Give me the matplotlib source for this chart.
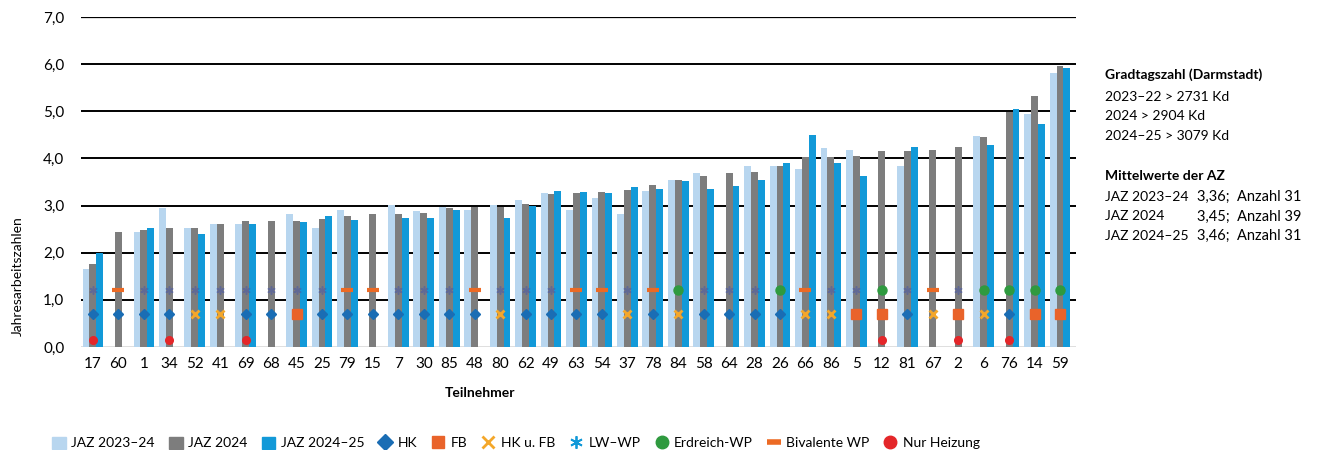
import matplotlib
matplotlib.use('Agg')
import matplotlib.pyplot as plt
from matplotlib.lines import Line2D
from matplotlib.patches import Patch
import numpy as np

plt.rcParams['font.family'] = ['Lato', 'DejaVu Sans']

teilnehmer = ['17', '60', '1', '34', '52', '41', '69', '68', '45', '25', '79', '15', '7',
              '30', '85', '48', '80', '62', '49', '63', '54', '37', '78', '84', '58', '64',
              '28', '26', '66', '86', '5', '12', '81', '67', '2', '6', '76', '14', '59']

# None = kein Wert
jaz_2023_24 = [1.65, None, 2.45, 2.94, 2.53, 2.61, 2.61, None, 2.82, 2.53, 2.91, None, 3.01,
               2.89, 2.96, 2.91, 3.01, 3.12, 3.26, 2.91, 3.16, 2.82, 3.30, 3.55, 3.69, None,
               3.84, 3.84, 3.77, 4.22, 4.17, None, 3.84, None, None, 4.47, None, 4.94, 5.82]
jaz_2024 = [1.77, 2.43, 2.48, 2.53, 2.53, 2.61, 2.67, 2.67, 2.68, 2.72, 2.78, 2.82, 2.82,
            2.84, 2.94, 2.96, 2.96, 3.04, 3.24, 3.26, 3.28, 3.33, 3.43, 3.55, 3.63, 3.70,
            3.71, 3.84, 4.03, 4.04, 4.06, 4.15, 4.15, 4.18, 4.24, 4.45, 4.98, 5.32, 5.97]
jaz_2024_25 = [2.00, None, 2.52, None, 2.40, None, 2.60, None, 2.66, 2.77, 2.70, None, 2.73,
               2.73, 2.91, None, 2.74, 2.99, 3.30, 3.28, 3.26, 3.39, 3.35, 3.52, 3.35, 3.42,
               3.55, 3.91, 4.50, 3.91, 3.63, None, 4.24, None, None, 4.29, 5.04, 4.72, 5.91]

# Wärmeverteilung: HK, FB, HKFB
verteilung = ['HK', 'HK', 'HK', 'HK', 'HKFB', 'HKFB', 'HK', 'HK', 'FB', 'HK', 'HK', 'HK', 'HK',
              'HK', 'HK', 'HK', 'HKFB', 'HK', 'HK', 'HK', 'HK', 'HKFB', 'HK', 'HKFB', 'HK', 'HK',
              'HK', 'HK', 'HKFB', 'HKFB', 'FB', 'FB', 'HK', 'HKFB', 'FB', 'HKFB', 'HK', 'FB', 'FB']
# Wärmequelle: LW, EW, BIV
quelle = ['LW', 'BIV', 'LW', 'LW', 'LW', 'LW', 'LW', 'LW', 'LW', 'LW', 'BIV', 'BIV', 'LW',
          'LW', 'LW', 'BIV', 'LW', 'LW', 'LW', 'BIV', 'BIV', 'LW', 'BIV', 'EW', 'LW', 'LW',
          'LW', 'EW', 'BIV', 'LW', 'LW', 'EW', 'LW', 'BIV', 'LW', 'EW', 'EW', 'EW', 'EW']
nur_heizung = ['17', '34', '69', '12', '2', '76']

c_light = '#b8d6ef'
c_gray = '#7d7d7d'
c_blue = '#1299d8'
c_hk = '#1a6db4'
c_fb = '#e9632a'
c_hkfb = '#f4a72a'
c_lw = '#4a5aa8'
c_ew = '#2f9a3f'
c_biv = '#ec6a24'
c_nh = '#e42629'

fig = plt.figure(figsize=(13.23, 4.5), dpi=100)
ax = fig.add_axes([0.0612, 0.2289, 0.7521, 0.7333])

x = np.arange(len(teilnehmer))
w = 0.27

def vals(lst):
    return np.array([np.nan if v is None else v for v in lst])

ax.bar(x - w, vals(jaz_2023_24), width=w, color=c_light, zorder=2)
ax.bar(x, vals(jaz_2024), width=w, color=c_gray, zorder=3)
ax.bar(x + w, vals(jaz_2024_25), width=w, color=c_blue, zorder=2)

for yv in range(0, 8):
    lw = 0.9 if yv in (0, 7) else 1.4
    ax.axhline(yv, color='black', lw=lw, zorder=1)

for i, t in enumerate(teilnehmer):
    v = verteilung[i]
    if v == 'HK':
        ax.plot(i, 0.7, marker='D', ms=5, color=c_hk, mec=c_hk, zorder=5)
    elif v == 'FB':
        ax.plot(i, 0.7, marker='s', ms=6.5, color=c_fb, mec=c_fb, zorder=5)
    else:
        ax.plot(i, 0.7, marker='x', ms=5.5, mew=2, color=c_hkfb, zorder=5)
    q = quelle[i]
    if q == 'LW':
        ax.plot(i, 1.2, marker=(6, 2, 0), ms=6, mew=1.1, color=c_lw, alpha=0.55, zorder=5)
    elif q == 'EW':
        ax.plot(i, 1.2, marker='o', ms=6.5, color=c_ew, mec=c_ew, zorder=5)
    else:
        ax.plot(i, 1.2, marker='_', ms=8, mew=3, color=c_biv, zorder=5)
    if t in nur_heizung:
        ax.plot(i, 0.14, marker='o', ms=5.5, color=c_nh, mec=c_nh, zorder=5)

ax.set_xlim(-0.47, len(teilnehmer) - 1 + 0.63)
ax.set_ylim(0, 7)
ax.set_yticks(range(0, 8))
ax.set_yticklabels(['%d,0' % v for v in range(0, 8)], fontsize=11)
ax.set_xticks(x)
ax.set_xticklabels(teilnehmer, fontsize=11)
ax.tick_params(axis='both', length=0)
ax.tick_params(axis='y', pad=12)
ax.tick_params(axis='x', pad=7)
for s in ax.spines.values():
    s.set_visible(False)

fig.text(18 / 1323, 1 - 276 / 450, 'Jahresarbeitszahlen', rotation=90,
         ha='center', va='center', fontsize=10)
fig.text(480 / 1323, 1 - 393 / 450, 'Teilnehmer', ha='center', va='center',
         fontsize=10, fontweight='bold')

# Infotext rechts
tx = 1105 / 1323
fig.text(tx, 1 - 75 / 450, 'Gradtagszahl (Darmstadt)', fontsize=10, fontweight='bold', va='center')
fig.text(tx, 1 - 97 / 450, '2023–22 > 2731 Kd', fontsize=10, va='center')
fig.text(tx, 1 - 116 / 450, '2024 > 2904 Kd', fontsize=10, va='center')
fig.text(tx, 1 - 136 / 450, '2024–25 > 3079 Kd', fontsize=10, va='center')
fig.text(tx, 1 - 176 / 450, 'Mittelwerte der AZ', fontsize=10, fontweight='bold', va='center')
mittel = [('JAZ 2023–24', '3,36;  Anzahl 31'), ('JAZ 2024', '3,45;  Anzahl 39'),
          ('JAZ 2024–25', '3,46;  Anzahl 31')]
for k, (a, b) in enumerate(mittel):
    yy = 1 - (197 + k * 19.5) / 450
    fig.text(tx, yy, a, fontsize=10, va='center')
    fig.text(1197 / 1323, yy, b, fontsize=10.5, va='center')

handles = [
    Patch(color=c_light, label='JAZ 2023–24'),
    Patch(color=c_gray, label='JAZ 2024'),
    Patch(color=c_blue, label='JAZ 2024–25'),
    Line2D([], [], ls='none', marker='D', ms=8, color=c_hk, label='HK'),
    Line2D([], [], ls='none', marker='s', ms=9, color=c_fb, label='FB'),
    Line2D([], [], ls='none', marker='x', ms=8, mew=2, color=c_hkfb, label='HK u. FB'),
    Line2D([], [], ls='none', marker=(6, 2, 0), ms=9, mew=1.3, color=c_blue, label='LW–WP'),
    Line2D([], [], ls='none', marker='o', ms=9, color=c_ew, label='Erdreich-WP'),
    Line2D([], [], ls='none', marker='_', ms=10, mew=4, color=c_biv, label='Bivalente WP'),
    Line2D([], [], ls='none', marker='o', ms=9, color=c_nh, label='Nur Heizung'),
]
fig.legend(handles=handles, loc='center left', bbox_to_anchor=(52 / 1323, 1 - 443 / 450),
           ncol=10, frameon=False, fontsize=10, handlelength=1.0, handleheight=1.0,
           handletextpad=0.4, columnspacing=1.0, borderpad=0, borderaxespad=0)

fig.savefig('out.png', dpi=100)
